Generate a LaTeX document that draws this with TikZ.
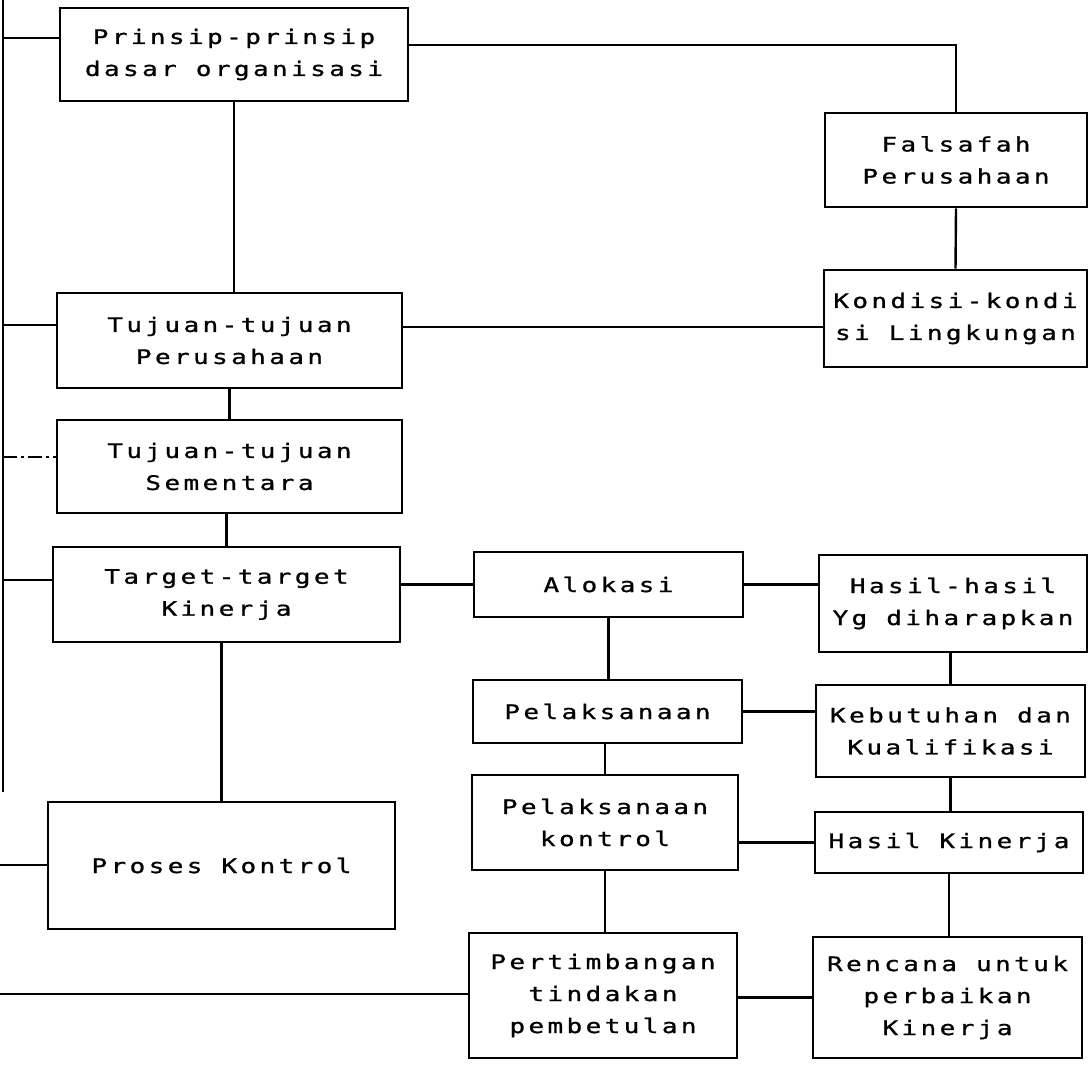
\documentclass[tikz,border=0pt]{standalone}
\usepackage{fontspec}
\newfontfamily\dotfont[FakeStretch=1.3, LetterSpace=17, FakeBold=1]{DejaVu Sans Mono}
\begin{document}
\begin{tikzpicture}[x=0.5pt, y=-0.5pt, line width=1.2pt,
        kotak/.style={draw, line width=1.3pt, inner sep=0pt, align=center,
            font={\dotfont\fontsize{10}{16}\selectfont}},
        garis/.style={line width=1.2pt}]
    \useasboundingbox[fill=white] (0,0) rectangle (1090,1064);
    \node[kotak, minimum width=174pt, minimum height=46.5pt] (prinsip) at (234, 54.5) {Prinsip-prinsip\\dasar organisasi};
    \node[kotak, minimum width=131pt, minimum height=47pt] (falsafah) at (956, 160) {Falsafah\\Perusahaan};
    \node[kotak, minimum width=131.5pt, minimum height=48.5pt] (kondisi) at (955.5, 318.5) {Kondisi-kondi\\si Lingkungan};
    \node[kotak, minimum width=172.5pt, minimum height=47.5pt] (tujuan) at (229.5, 340.5) {Tujuan-tujuan\\Perusahaan};
    \node[kotak, minimum width=172.5pt, minimum height=46.5pt] (sementara) at (229.5, 466.5) {Tujuan-tujuan\\Sementara};
    \node[kotak, minimum width=173.5pt, minimum height=47.5pt] (target) at (226.5, 594.5) {Target-target\\Kinerja};
    \node[kotak, minimum width=134.5pt, minimum height=32.5pt] (alokasi) at (608.5, 584.5) {Alokasi};
    \node[kotak, minimum width=134pt, minimum height=48.5pt] (harapan) at (953, 603.5) {Hasil-hasil\\Yg diharapkan};
    \node[kotak, minimum width=134.5pt, minimum height=31.5pt] (laksana) at (607.5, 711.5) {Pelaksanaan};
    \node[kotak, minimum width=134.5pt, minimum height=46pt] (kebutuhan) at (950.5, 731) {Kebutuhan dan\\Kualifikasi};
    \node[kotak, minimum width=133pt, minimum height=47.5pt] (laksanakontrol) at (605, 822.5) {Pelaksanaan\\kontrol};
    \node[kotak, minimum width=134pt, minimum height=30.5pt] (hasilkinerja) at (949, 842.5) {Hasil Kinerja};
    \node[kotak, minimum width=173.5pt, minimum height=63.5pt] (proses) at (221.5, 865.5) {Proses Kontrol};
    \node[kotak, minimum width=134pt, minimum height=62.5pt] (pertimbangan) at (603, 995.5) {Pertimbangan\\tindakan\\pembetulan};
    \node[kotak, minimum width=134.5pt, minimum height=60.5pt] (rencana) at (947.5, 997.5) {Rencana untuk\\perbaikan\\Kinerja};

    \coordinate (relatas) at (3, 0);
    \coordinate (relbawah) at (3, 792);
    \coordinate (rel1) at (3, 38);
    \coordinate (rel2) at (3, 325);
    \coordinate (rel3) at (3, 457);
    \coordinate (rel4) at (3, 580);
    \coordinate (rel5) at (0, 865);
    \coordinate (rel6) at (0, 994);
    \coordinate (atas) at (0, 45);
    \coordinate (kiri) at (0, 327);

    \draw[garis] (relatas) -- (relbawah);
    \draw[garis] (rel1) -- (rel1 -| prinsip.west);
    \draw[garis] (rel2) -- (rel2 -| tujuan.west);
    \draw[line width=0.8pt, dash pattern=on 7pt off 2pt on 1.5pt off 2pt] (rel3) -- (rel3 -| sementara.west);
    \draw[garis] (rel4) -- (rel4 -| target.west);
    \draw[garis] (rel5) -- (rel5 -| proses.west);
    \draw[garis] (rel6) -- (rel6 -| pertimbangan.west);

    \draw[garis] (prinsip.east |- atas) -| (falsafah.north);
    \draw[garis] (prinsip.south) -- (prinsip.south |- tujuan.north);
    \draw[garis] (falsafah.south) -- (kondisi.north);
    \draw[garis] (tujuan.east |- kiri) -- (kiri -| kondisi.west);
    \draw[garis] (tujuan.south) -- (sementara.north);
    \draw[garis] (target.north |- sementara.south) -- (target.north);
    \draw[garis] (proses.north |- target.south) -- (proses.north);
    \draw[garis] (alokasi.west) -- (alokasi.west -| target.east);
    \draw[garis] (alokasi.east) -- (alokasi.east -| harapan.west);
    \draw[garis] (alokasi.south) -- (alokasi.south |- laksana.north);
    \draw[garis] (kebutuhan.north |- harapan.south) -- (kebutuhan.north);
    \draw[garis] (laksana.east) -- (laksana.east -| kebutuhan.west);
    \draw[garis] (laksanakontrol.north |- laksana.south) -- (laksanakontrol.north);
    \draw[garis] (kebutuhan.south) -- (kebutuhan.south |- hasilkinerja.north);
    \draw[garis] (hasilkinerja.west) -- (hasilkinerja.west -| laksanakontrol.east);
    \draw[garis] (laksanakontrol.south) -- (laksanakontrol.south |- pertimbangan.north);
    \draw[garis] (hasilkinerja.south) -- (hasilkinerja.south |- rencana.north);
    \draw[garis] (rencana.west) -- (rencana.west -| pertimbangan.east);
\end{tikzpicture}
\end{document}
